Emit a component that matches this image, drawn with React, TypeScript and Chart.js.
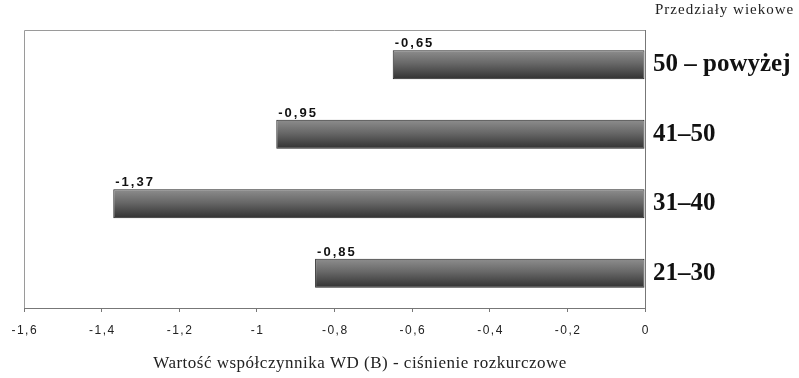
import { useEffect, useRef } from 'react';
import { Chart, registerables } from 'chart.js';

Chart.register(...registerables);

// Age brackets (top to bottom) and their WD coefficient for diastolic pressure
const ageGroups = ['50 – powyżej', '41–50', '31–40', '21–30'];
const wdValues = [-0.65, -0.95, -1.37, -0.85];
const axisTicks = [-1.6, -1.4, -1.2, -1, -0.8, -0.6, -0.4, -0.2, 0];
const groupsTitle = 'Przedziały wiekowe';
const axisTitle = 'Wartość współczynnika WD (B) - ciśnienie rozkurczowe';

const SANS = '"Liberation Sans", Arial, sans-serif';
const SERIF = '"Liberation Serif", "Times New Roman", serif';

const fmt = (v: number) => String(Math.round(v * 100) / 100).replace('.', ',');

const annotations = {
  id: 'annotations',
  beforeDatasetsDraw(chart: any) {
    const { ctx, chartArea: a } = chart;
    ctx.save();
    ctx.strokeStyle = '#9a9a9a';
    ctx.lineWidth = 1;
    ctx.beginPath();
    ctx.moveTo(a.left + 0.5, a.bottom);
    ctx.lineTo(a.left + 0.5, a.top + 0.5);
    ctx.lineTo(a.right, a.top + 0.5);
    ctx.stroke();
    ctx.restore();
  },
  afterDraw(chart: any) {
    const { ctx, chartArea: a } = chart;
    const x = chart.scales.x;
    ctx.save();

    // value-axis tick labels
    ctx.font = `12px ${SANS}`;
    ctx.letterSpacing = '1.5px';
    ctx.fillStyle = '#222';
    ctx.textBaseline = 'middle';
    ctx.textAlign = 'left';
    axisTicks.forEach((v) => {
      const s = fmt(v);
      const w = ctx.measureText(s).width - 1.5;
      ctx.fillText(s, x.getPixelForValue(v) - w / 2, a.bottom + 23);
    });

    // value labels above the left end of each bar
    ctx.font = `bold 13px ${SANS}`;
    ctx.letterSpacing = '2px';
    ctx.fillStyle = '#111';
    ctx.textBaseline = 'alphabetic';
    const meta = chart.getDatasetMeta(0);
    meta.data.forEach((bar: any, i: number) => {
      ctx.fillText(fmt(wdValues[i]), bar.x + 2, bar.y - bar.height / 2 - 3);
    });

    // titles
    ctx.fillStyle = '#222';
    ctx.textBaseline = 'middle';
    ctx.textAlign = 'left';
    ctx.font = `15px ${SERIF}`;
    ctx.letterSpacing = '1px';
    ctx.fillText(groupsTitle, a.right + 10, a.top - 20);
    ctx.font = `17px ${SERIF}`;
    ctx.letterSpacing = '0.5px';
    const tw = ctx.measureText(axisTitle).width;
    ctx.fillText(axisTitle, 360 - tw / 2, a.bottom + 56);
    ctx.restore();
  },
};

export default function App() {
  const canvasRef = useRef<HTMLCanvasElement | null>(null);

  useEffect(() => {
    const canvas = canvasRef.current;
    if (!canvas) return;

    const barFill = (context: any) => {
      const chart = context.chart;
      const yScale = chart.scales.y;
      if (!chart.chartArea || !yScale) return '#555';
      const cy = yScale.getPixelForValue(context.dataIndex);
      const half = (yScale.height / ageGroups.length) * 0.42 / 2;
      const g = chart.ctx.createLinearGradient(0, cy - half, 0, cy + half);
      g.addColorStop(0, '#8e8e8e');
      g.addColorStop(0.45, '#686868');
      g.addColorStop(1, '#313131');
      return g;
    };

    const chart = new Chart(canvas, {
      type: 'bar',
      data: {
        labels: ageGroups,
        datasets: [
          {
            data: wdValues,
            backgroundColor: barFill,
            borderColor: '#222',
            borderWidth: 1,
            borderSkipped: false,
            categoryPercentage: 1,
            barPercentage: 0.42,
          },
        ],
      },
      options: {
        indexAxis: 'y',
        responsive: false,
        animation: false,
        layout: { padding: { left: 24, top: 30, right: 0, bottom: 0 } },
        plugins: { legend: { display: false }, tooltip: { enabled: false } },
        scales: {
          x: {
            min: -1.6,
            max: 0,
            ticks: { display: false, stepSize: 0.2 },
            grid: { drawOnChartArea: false, drawTicks: true, tickLength: 4, color: '#777' },
            border: { color: '#777' },
            afterFit: (s: any) => {
              s.height = 70;
            },
          },
          y: {
            position: 'right',
            grid: { display: false, drawTicks: false },
            border: { color: '#777' },
            ticks: {
              padding: 8,
              color: '#111',
              font: { family: SERIF, size: 25, weight: 'bold' },
            },
            afterFit: (s: any) => {
              s.width = 154;
            },
          },
        },
      },
      plugins: [annotations],
    });

    return () => chart.destroy();
  }, []);

  return (
    <div style={{ position: 'fixed', left: 0, top: 0, width: 799, height: 378, background: '#fff' }}>
      <canvas ref={canvasRef} width={799} height={378} style={{ display: 'block' }} />
    </div>
  );
}
